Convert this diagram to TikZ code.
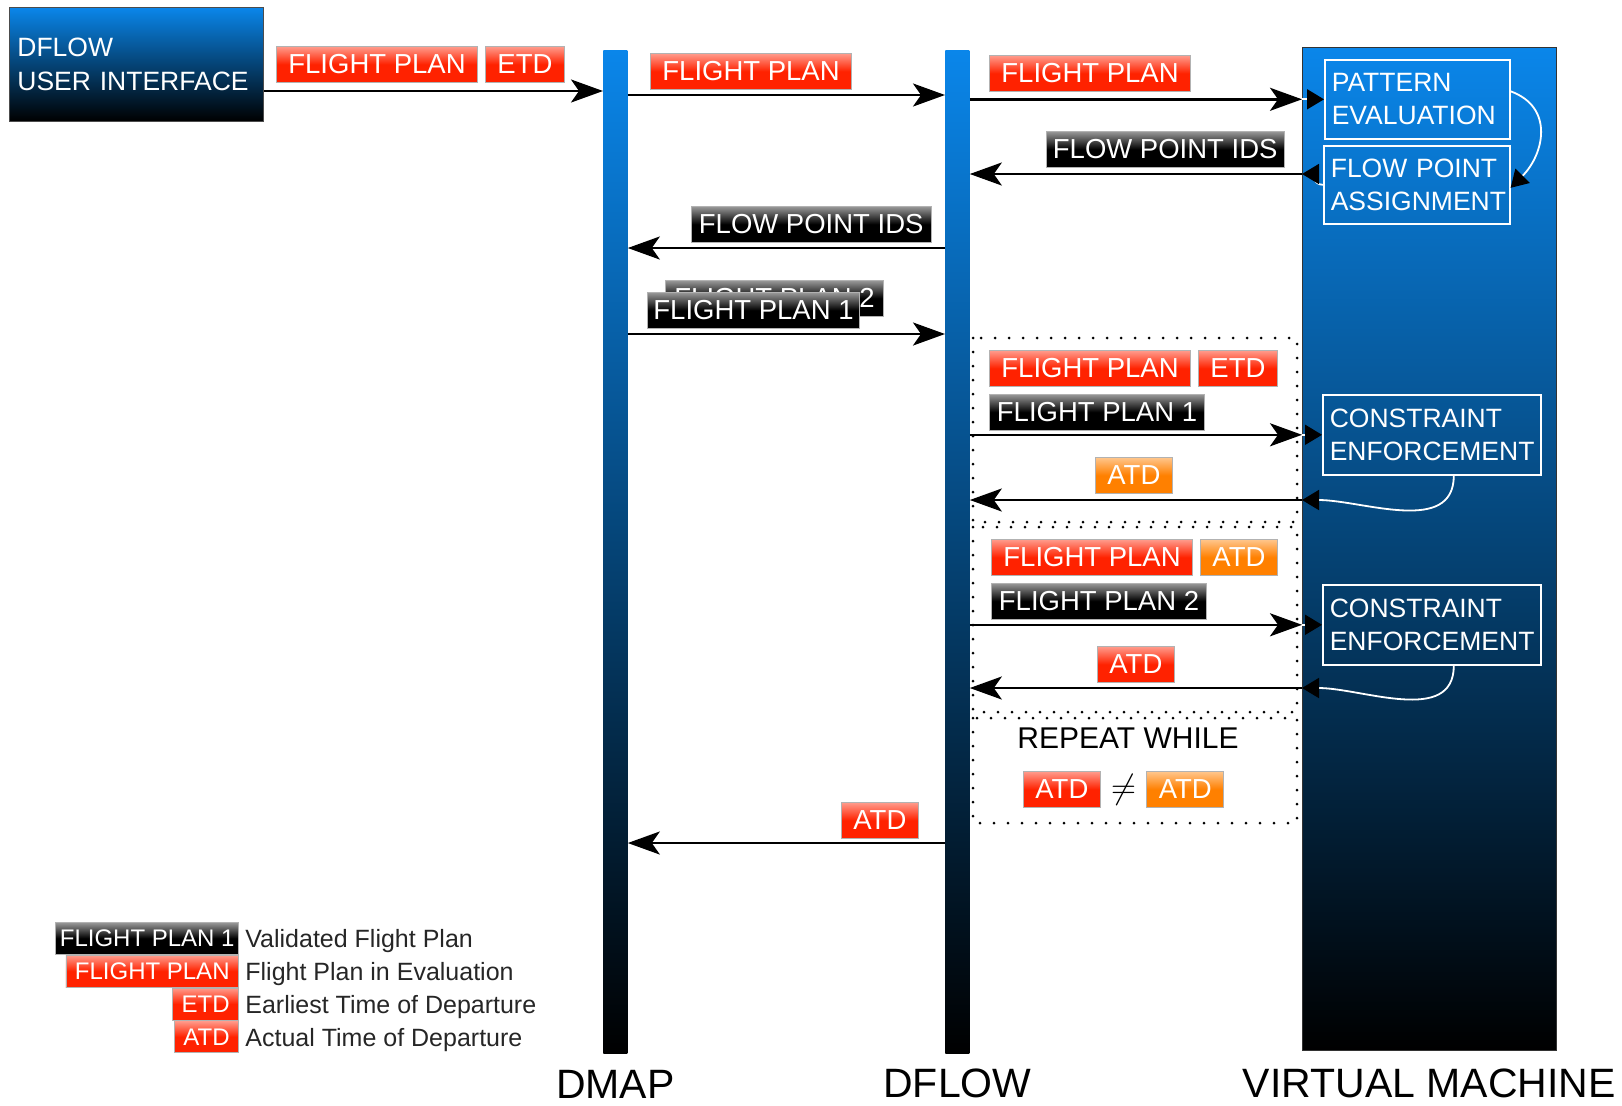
\documentclass[tikz,border=0pt]{standalone}
\usepackage{fontspec}
\setmainfont{Liberation Sans}
\usetikzlibrary{positioning,arrows.meta}
\definecolor{lanetop}{HTML}{0A86EA}
\definecolor{tagred}{HTML}{FF2200}
\definecolor{tagorange}{HTML}{FF8000}

\begin{document}
\begin{tikzpicture}[x=0.5pt,y=-0.5pt,node distance=3.5pt,
    lane/.style={top color=lanetop,bottom color=black,inner sep=0pt,anchor=north west},
    tag/.style={draw=gray!60,line width=0.4pt,text=white,font=\fontsize{13.75}{16}\selectfont,inner ysep=0pt,minimum height=18pt,anchor=north west},
    fpred/.style={tag,inner xsep=6pt,top color=tagred!45!white,bottom color=tagred,middle color=tagred},
    fporange/.style={tag,inner xsep=6pt,top color=tagorange!45!white,bottom color=tagorange,middle color=tagorange},
    fpblack/.style={tag,inner xsep=3.75pt,top color=black!40,bottom color=black,middle color=black},
    key/.style={font=\fontsize{12}{14}\selectfont,minimum height=16pt,anchor=north east},
    desc/.style={font=\fontsize{12.5}{14}\selectfont,text=black!85,inner xsep=0pt,yshift=-1.5pt},
    stage/.style={draw=white,line width=0.8pt,text=white,align=left,font=\fontsize{13.25}{16.5}\selectfont,inner xsep=3.5pt,anchor=north west},
    lanename/.style={font=\fontsize{20.5}{24}\selectfont,inner sep=0pt},
    msg/.style={line width=1.3pt,-{Stealth[length=16pt,width=11.5pt,inset=4pt]}},
    hand/.style={white,line width=0.9pt,-{Triangle[color=black,length=8.5pt,width=10pt]}},
    loopbox/.style={line width=1.5pt,dash pattern=on 0pt off 7pt,line cap=round}]
  \useasboundingbox (0,0) rectangle (1622,1105);

  % lanes
  \node[lane,draw=black!70,line width=0.4pt,minimum width=127pt,minimum height=57pt,text width=119pt,inner xsep=4pt,
        align=left,text=white,font=\fontsize{13.25}{17}\selectfont] (ui) at (9,7) {DFLOW\\USER INTERFACE};
  \node[lane,minimum width=12pt,minimum height=501.5pt] (dmap) at (603,50) {};
  \node[lane,minimum width=12pt,minimum height=501.5pt] (dflow) at (945,50) {};
  \node[lane,draw=black!80,line width=0.4pt,minimum width=127pt,minimum height=501.5pt] (vm) at (1302,47) {};
  \node[lanename,below=8pt of dmap] (dmapname) {DMAP};
  \node[lanename,below=7.5pt of dflow] (dflowname) {DFLOW};
  \node[lanename,below=9pt of vm] (vmname) {VIRTUAL MACHINE};

  % stages inside the virtual machine
  \node[stage,text width=85.5pt,minimum height=39.5pt] (pe) at (1324,59) {PATTERN\\EVALUATION};
  \node[stage,text width=86pt,minimum height=39pt] (fpa) at (1323,145) {FLOW POINT\\ASSIGNMENT};
  \node[stage,text width=102pt,minimum height=40pt] (ce1) at (1322,394) {CONSTRAINT\\ENFORCEMENT};
  \node[stage,text width=102pt,minimum height=40pt] (ce2) at (1322,584) {CONSTRAINT\\ENFORCEMENT};

  % repeated exchange
  \draw[loopbox] (973,338) rectangle (1297,522);
  \draw[loopbox] (973,527) rectangle (1297,712);
  \draw[loopbox] (973,718) rectangle (1297,823);

  % message rows
  \coordinate (r1) at (0,91);
  \coordinate (r2) at (0,95);
  \coordinate (r3) at (0,174);
  \coordinate (r4) at (0,248);
  \coordinate (r5) at (0,334);
  \coordinate (r6) at (0,500);
  \coordinate (r8) at (0,688);
  \coordinate (r9) at (0,843);

  % tags
  \node[fpred] (uifp) at (276,46) {FLIGHT PLAN};
  \node[fpred,right=3.5pt of uifp] (uietd) {ETD};
  \node[fpred] (fp1) at (650,53) {FLIGHT PLAN};
  \node[fpred] (fp2) at (989,55) {FLIGHT PLAN};
  \node[fpblack,inner xsep=3.25pt] (ids1) at (1046,131) {FLOW POINT IDS};
  \node[fpblack] (ids2) at (691,206) {FLOW POINT IDS};
  \node[fpblack,inner xsep=4.5pt] (plan2b) at (665,280) {FLIGHT PLAN 2};
  \node[fpblack,inner xsep=3pt] (plan1a) at (647,292) {FLIGHT PLAN 1};

  \node[fpred] (evfp1) at (989,350) {FLIGHT PLAN};
  \node[fpred,right=3.5pt of evfp1] (etd1) {ETD};
  \node[fpblack,below=3.5pt of evfp1.south west,anchor=north west] (valid1) {FLIGHT PLAN 1};
  \node[fporange] (atd1) at (1095,457) {ATD};

  \node[fpred] (evfp2) at (991,539) {FLIGHT PLAN};
  \node[fporange,right=3.5pt of evfp2] (atd2) {ATD};
  \node[fpblack,below=3.5pt of evfp2.south west,anchor=north west] (valid2) {FLIGHT PLAN 2};
  \node[fpred] (atd3) at (1097,646) {ATD};

  \node[font=\fontsize{15}{17}\selectfont] (repeat) at (1128,738) {REPEAT WHILE};
  \node[fpred] (atd4) at (1023,771) {ATD};
  \node[right=0pt of atd4,inner xsep=5pt,font=\fontsize{19}{20}\selectfont] (neq) {$\neq$};
  \node[fporange,right=0pt of neq] (atd5) {ATD};

  \node[fpred] (atd6) at (841,802) {ATD};

  % arrows
  \draw[msg] (ui.east |- r1) -- (dmap.west |- r1);
  \draw[msg] (dmap.east |- r2) -- (dflow.west |- r2);
  \draw[msg] (dflow.east |- pe.west) -- (vm.west |- pe.west);
  \draw[hand] (vm.west |- pe.west) -- (pe.west);
  \draw[hand] ([yshift=4pt]pe.east) to[out=-20,in=45,looseness=1.25] ([yshift=-1.5pt]fpa.east);
  \draw[hand] (fpa.west) to[out=180,in=0] (vm.west |- r3);
  \draw[msg] (vm.west |- r3) -- (dflow.east |- r3);
  \draw[msg] (dflow.west |- r4) -- (dmap.east |- r4);
  \draw[msg] (dmap.east |- r5) -- (dflow.west |- r5);
  \draw[msg] (dflow.east |- ce1.west) -- (vm.west |- ce1.west);
  \draw[hand] (vm.west |- ce1.west) -- (ce1.west);
  \draw[hand] ([xshift=11pt]ce1.south) to[out=-90,in=0] (vm.west |- r6);
  \draw[msg] (vm.west |- r6) -- (dflow.east |- r6);
  \draw[msg] (dflow.east |- ce2.west) -- (vm.west |- ce2.west);
  \draw[hand] (vm.west |- ce2.west) -- (ce2.west);
  \draw[hand] ([xshift=11pt]ce2.south) to[out=-90,in=0] (vm.west |- r8);
  \draw[msg] (vm.west |- r8) -- (dflow.east |- r8);
  \draw[msg] (dflow.west |- r9) -- (dmap.east |- r9);

  % legend
  \node[fpblack,key,inner xsep=2pt] (k1) at (239,922) {FLIGHT PLAN 1};
  \node[fpred,key,inner xsep=4.5pt,below left=0pt and 0pt of k1.south east] (k2) {FLIGHT PLAN};
  \node[fpred,key,inner xsep=4.5pt,below left=0pt and 0pt of k2.south east] (k3) {ETD};
  \node[fpred,key,inner xsep=4.5pt,below left=0pt and 0pt of k3.south east] (k4) {ATD};
  \node[desc,right=3pt of k1] (d1) {Validated Flight Plan};
  \node[desc,right=3pt of k2] (d2) {Flight Plan in Evaluation};
  \node[desc,right=3pt of k3] (d3) {Earliest Time of Departure};
  \node[desc,right=3pt of k4] (d4) {Actual Time of Departure};
\end{tikzpicture}
\end{document}
